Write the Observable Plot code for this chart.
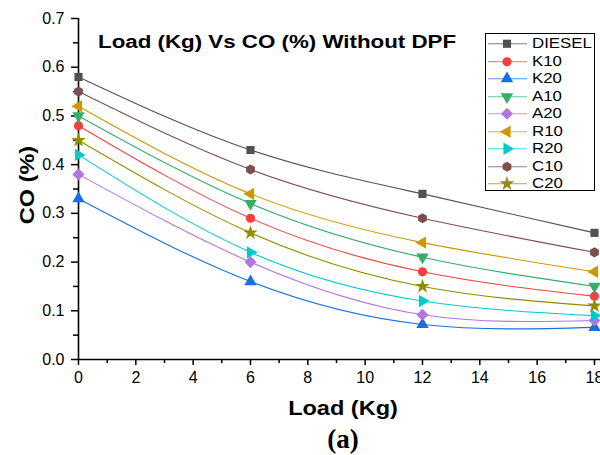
<!DOCTYPE html>
<html>
<head>
<meta charset="utf-8">
<script src="https://cdn.jsdelivr.net/npm/d3@7"></script>
<script src="https://cdn.jsdelivr.net/npm/@observablehq/plot@0.6"></script>
<style>
  html, body { margin: 0; padding: 0; background: white; }
  #wrap { position: relative; width: 600px; height: 455px; overflow: hidden; font-family: "Liberation Sans", Arial, sans-serif; }
  #wrap > svg { position: absolute; left: 0; top: 0; }
  .ov { position: absolute; white-space: nowrap; color: #000; }
  .sx { display: inline-block; transform-origin: left center; }
  #legend { position: absolute; border: 1px solid #000; background: white; box-sizing: border-box; }
  .row { position: absolute; left: 0; height: 17.5px; width: 100%; }
  .row svg { position: absolute; left: 0; top: 0; }
  .row span { position: absolute; font-size: 14px; line-height: 17.5px; transform: scaleX(1.2); transform-origin: left center; }
</style>
</head>
<body>
<div id="wrap"></div>
<script>
// ---- data ----
const loads = [0, 6, 12, 18];
const seriesNames = ["DIESEL", "K10", "K20", "A10", "A20", "R10", "R20", "C10", "C20"];
const DIESEL = [0.58, 0.43, 0.34, 0.26];
const K10 = [0.48, 0.29, 0.18, 0.13];
const K20 = [0.33, 0.16, 0.072, 0.066];
const A10 = [0.50, 0.32, 0.21, 0.15];
const A20 = [0.38, 0.20, 0.092, 0.08];
const R10 = [0.52, 0.34, 0.24, 0.18];
const R20 = [0.42, 0.22, 0.12, 0.09];
const C10 = [0.55, 0.39, 0.29, 0.22];
const C20 = [0.45, 0.26, 0.15, 0.11];
const seriesValues = [DIESEL, K10, K20, A10, A20, R10, R20, C10, C20];
const seriesColors = ["#515151", "#F14040", "#1A6FDF", "#37AD6B", "#B177DE", "#CC9900", "#00CBCC", "#7D4E4E", "#8E8E00"];
const yTicks = [0, 0.1, 0.2, 0.3, 0.4, 0.5, 0.6, 0.7];
const yMinor = [0.05, 0.15, 0.25, 0.35, 0.45, 0.55, 0.65];
const xTicks = [0, 2, 4, 6, 8, 10, 12, 14, 16, 18];
const xMinor = [1, 3, 5, 7, 9, 11, 13, 15, 17];

// ---- symbols ----
function triPts(size) {
  const a = Math.sqrt(4 * size / Math.sqrt(3));
  const h = a * Math.sqrt(3) / 2;
  return {a, h};
}
function poly(ctx, pts) {
  ctx.moveTo(pts[0][0], pts[0][1]);
  for (let i = 1; i < pts.length; i++) ctx.lineTo(pts[i][0], pts[i][1]);
  ctx.closePath();
}
const symUp = {draw(ctx, s) { const {a, h} = triPts(s); poly(ctx, [[0, -2*h/3], [a/2, h/3], [-a/2, h/3]]); }};
const symDown = {draw(ctx, s) { const {a, h} = triPts(s); poly(ctx, [[0, 2*h/3], [a/2, -h/3], [-a/2, -h/3]]); }};
const symLeft = {draw(ctx, s) { const {a, h} = triPts(s); poly(ctx, [[-2*h/3, 0], [h/3, -a/2], [h/3, a/2]]); }};
const symRight = {draw(ctx, s) { const {a, h} = triPts(s); poly(ctx, [[2*h/3, 0], [-h/3, -a/2], [-h/3, a/2]]); }};
const symDiamond = {draw(ctx, s) { const d = Math.sqrt(s / 2) * 1.05; poly(ctx, [[0, -d], [d, 0], [0, d], [-d, 0]]); }};
const symHex = {draw(ctx, s) { const R = Math.sqrt(2 * s / (3 * Math.sqrt(3))); const p = []; for (let i = 0; i < 6; i++) { const t = Math.PI / 6 + i * Math.PI / 3; p.push([R * Math.cos(t), R * Math.sin(t)]); } poly(ctx, p); }};
const seriesSymbols = [d3.symbolSquare, d3.symbolCircle, symUp, symDown, symDiamond, symLeft, symRight, symHex, d3.symbolStar];

// ---- table ----
const table = [];
seriesNames.forEach((name, i) => {
  loads.forEach((l, j) => table.push({series: name, load: l, co: seriesValues[i][j]}));
});

const R = 4.6;
const chart = Plot.plot({
  width: 600,
  height: 455,
  marginLeft: 78,
  marginRight: 0,
  marginTop: 18,
  marginBottom: 96,
  style: {fontFamily: "Liberation Sans, Arial, sans-serif", fontSize: "16px", color: "#000", background: "white", overflow: "visible"},
  x: {domain: [0, 18.21], axis: null},
  y: {domain: [0, 0.7], axis: null},
  color: {domain: seriesNames, range: seriesColors},
  symbol: {domain: seriesNames, range: seriesSymbols},
  marks: [
    Plot.axisY({ticks: yTicks, tickSize: 7, tickPadding: 7, tickFormat: d => d.toFixed(1), label: null, strokeWidth: 1.5, fontSize: 16}),
    Plot.axisY({ticks: yMinor, tickSize: 5, tickFormat: () => "", label: null, strokeWidth: 1.5}),
    Plot.axisX({ticks: xTicks, tickSize: 6, tickPadding: 6, tickFormat: d => String(d), label: null, strokeWidth: 1.5, fontSize: 16}),
    Plot.axisX({ticks: xMinor, tickSize: 4, tickFormat: () => "", label: null, strokeWidth: 1.5}),
    Plot.ruleX([0], {stroke: "#000", strokeWidth: 1.6}),
    Plot.ruleY([0], {stroke: "#000", strokeWidth: 1.6}),
    Plot.line(table, {x: "load", y: "co", z: "series", stroke: "series", curve: "natural", strokeWidth: 1.1}),
    Plot.dot(table, {x: "load", y: "co", symbol: "series", fill: "series", r: R, stroke: "none"})
  ]
});
const wrap = document.getElementById("wrap");
wrap.appendChild(chart);

function overlay(html, css) {
  const d = document.createElement("div");
  d.className = "ov";
  d.innerHTML = html;
  Object.assign(d.style, css);
  wrap.appendChild(d);
  return d;
}
// Title inside plot
overlay('<span class="sx" style="transform:scaleX(1.24)">Load (Kg) Vs CO (%) Without DPF</span>',
  {left: "98px", top: "31px", fontSize: "18px", fontWeight: "bold", lineHeight: "22px"});
// Y axis title
overlay('CO (%)', {left: "27px", top: "185px", fontSize: "21px", fontWeight: "bold", transform: "translate(-50%,-50%) rotate(-90deg) scaleX(1.12)"});
// X axis title
overlay('Load (Kg)', {left: "343px", top: "408px", fontSize: "21px", fontWeight: "bold", transform: "translate(-50%,-50%) scaleX(1.12)"});
// (a)
overlay('(a)', {left: "343px", top: "439px", fontSize: "27px", fontWeight: "bold", fontFamily: "Liberation Serif, Times New Roman, serif", transform: "translate(-50%,-50%)"});

// Legend
const leg = document.createElement("div");
leg.id = "legend";
Object.assign(leg.style, {left: "485px", top: "33px", width: "110px", height: "158px"});
wrap.appendChild(leg);
const rowH = 17.5;
seriesNames.forEach((name, i) => {
  const row = document.createElement("div");
  row.className = "row";
  row.style.top = (1 + i * rowH) + "px";
  const s = d3.create("svg").attr("width", 45).attr("height", rowH);
  s.append("line").attr("x1", 2).attr("x2", 41).attr("y1", rowH / 2).attr("y2", rowH / 2)
    .attr("stroke", seriesColors[i]).attr("stroke-width", 1.1).attr("stroke-opacity", 0.75);
  s.append("path").attr("transform", `translate(21,${rowH / 2})`)
    .attr("d", d3.symbol(seriesSymbols[i], R * R * Math.PI)())
    .attr("fill", seriesColors[i]);
  row.appendChild(s.node());
  const t = document.createElement("span");
  t.textContent = name;
  t.style.left = "46px";
  row.appendChild(t);
  leg.appendChild(row);
});
</script>
</body>
</html>
